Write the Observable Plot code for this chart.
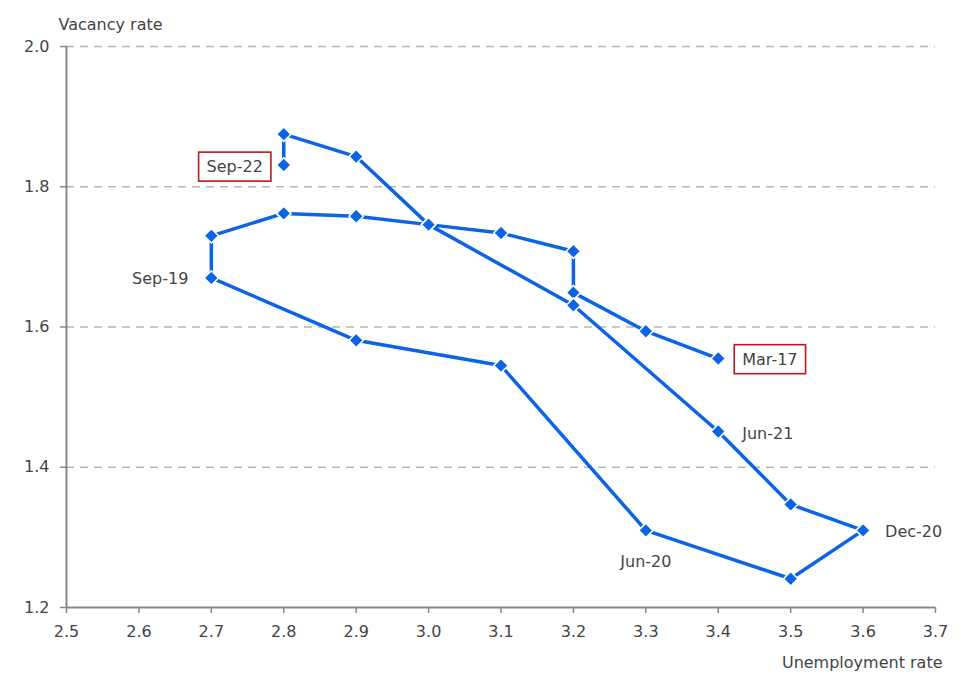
<!DOCTYPE html>
<html>
<head>
<meta charset="utf-8">
<script src="https://cdn.jsdelivr.net/npm/d3@7"></script>
<script src="https://cdn.jsdelivr.net/npm/@observablehq/plot@0.6"></script>
<style>
  html, body { margin: 0; padding: 0; background: #fff; }
  #chart svg { display: block; }
  #chart svg text { font-family: 'DejaVu Sans', sans-serif; }
</style>
</head>
<body>
<div id="chart"></div>
<script>
const dates = ["Mar-17","Jun-17","Sep-17","Dec-17","Mar-18","Jun-18","Sep-18","Dec-18",
  "Mar-19","Jun-19","Sep-19","Dec-19","Mar-20","Jun-20","Sep-20","Dec-20",
  "Mar-21","Jun-21","Sep-21","Dec-21","Mar-22","Jun-22","Sep-22"];
const unemployment = [3.4,3.3,3.2,3.2,3.1,3.0,2.9,2.8,2.8,2.7,2.7,2.9,3.1,3.3,3.5,3.6,3.5,3.4,3.2,3.0,2.9,2.8,2.8];
const vacancy = [1.555,1.594,1.649,1.708,1.734,1.746,1.758,1.762,1.762,1.730,1.670,1.581,1.545,1.310,1.241,1.310,1.347,1.451,1.631,1.746,1.843,1.875,1.831];

const xTicks = [2.5,2.6,2.7,2.8,2.9,3.0,3.1,3.2,3.3,3.4,3.5,3.6,3.7];
const yTicks = [1.2,1.4,1.6,1.8,2.0];
const xTitle = "Unemployment rate";
const yTitle = "Vacancy rate";
const boxedLabels = ["Sep-22","Mar-17"];

const data = dates.map((d, i) => ({date: d, u: unemployment[i], v: vacancy[i]}));
const pick = (name) => data.filter(d => d.date === name);

const FONT = "'DejaVu Sans',sans-serif";
const BLUE = "#0b63e6";
const TXT = "#444";

const plot = Plot.plot({
  width: 967,
  height: 680,
  marginLeft: 66,
  marginRight: 32,
  marginTop: 46,
  marginBottom: 73,
  style: {fontFamily: FONT, fontSize: "16px", color: TXT, background: "#fff"},
  x: {domain: [2.5, 3.7]},
  y: {domain: [1.2, 2.0]},
  marks: [
    Plot.gridY(yTicks.filter(t => t > 1.2), {stroke: "#b5b5b5", strokeOpacity: 1, strokeWidth: 1.5, strokeDasharray: "8,6"}),
    Plot.axisY({ticks: yTicks, tickFormat: ".1f", tickSize: 6, tickPadding: 11, stroke: "#888", strokeWidth: 1.5, fill: TXT, fontSize: 16, label: null}),
    Plot.axisX({ticks: xTicks, tickFormat: ".1f", tickSize: 6, tickPadding: 12, stroke: "#888", strokeWidth: 1.5, fill: TXT, fontSize: 16, label: null}),
    Plot.ruleX([2.5], {stroke: "#888", strokeWidth: 2}),
    Plot.ruleY([1.2], {stroke: "#888", strokeWidth: 2}),
    Plot.line(data, {x: "u", y: "v", stroke: BLUE, strokeWidth: 3.5, strokeLinejoin: "miter"}),
    Plot.dot(data, {x: "u", y: "v", symbol: "diamond2", r: 6.5, fill: BLUE, stroke: "white", strokeWidth: 1.5}),
    Plot.text(pick("Sep-22"), {x: "u", y: "v", text: "date", dx: -49, dy: 2, textAnchor: "middle", fill: TXT, fontSize: 16}),
    Plot.text(pick("Mar-17"), {x: "u", y: "v", text: "date", dx: 24, dy: 1, textAnchor: "start", fill: TXT, fontSize: 16}),
    Plot.text(pick("Sep-19"), {x: "u", y: "v", text: "date", dx: -23, dy: 1, textAnchor: "end", fill: TXT, fontSize: 16}),
    Plot.text(pick("Jun-20"), {x: "u", y: "v", text: "date", dx: 0, dy: 32, textAnchor: "middle", fill: TXT, fontSize: 16}),
    Plot.text(pick("Jun-21"), {x: "u", y: "v", text: "date", dx: 24, dy: 2, textAnchor: "start", fill: TXT, fontSize: 16}),
    Plot.text(pick("Dec-20"), {x: "u", y: "v", text: "date", dx: 22, dy: 2, textAnchor: "start", fill: TXT, fontSize: 16}),
    Plot.text([yTitle], {frameAnchor: "top-left", text: d => d, dx: -8, dy: -28, textAnchor: "start", fill: TXT, fontSize: 16}),
    Plot.text([xTitle], {frameAnchor: "bottom-right", text: d => d, dx: 7, dy: 60, textAnchor: "end", fill: TXT, fontSize: 16})
  ]
});

document.getElementById("chart").appendChild(plot);

// draw boxes around highlighted labels
plot.querySelectorAll("text").forEach(t => {
  if (boxedLabels.includes(t.textContent)) {
    const b = t.getBBox();
    const padX = 8, padY = 6;
    const r = document.createElementNS("http://www.w3.org/2000/svg", "rect");
    r.setAttribute("x", b.x - padX);
    r.setAttribute("y", b.y - padY + 1);
    r.setAttribute("width", b.width + 2 * padX);
    r.setAttribute("height", b.height + 2 * padY - 2);
    r.setAttribute("fill", "white");
    r.setAttribute("stroke", "#c0141c");
    r.setAttribute("stroke-width", "1.6");
    const tr = t.getAttribute("transform");
    if (tr) r.setAttribute("transform", tr);
    t.parentNode.insertBefore(r, t);
  }
});
</script>
</body>
</html>
